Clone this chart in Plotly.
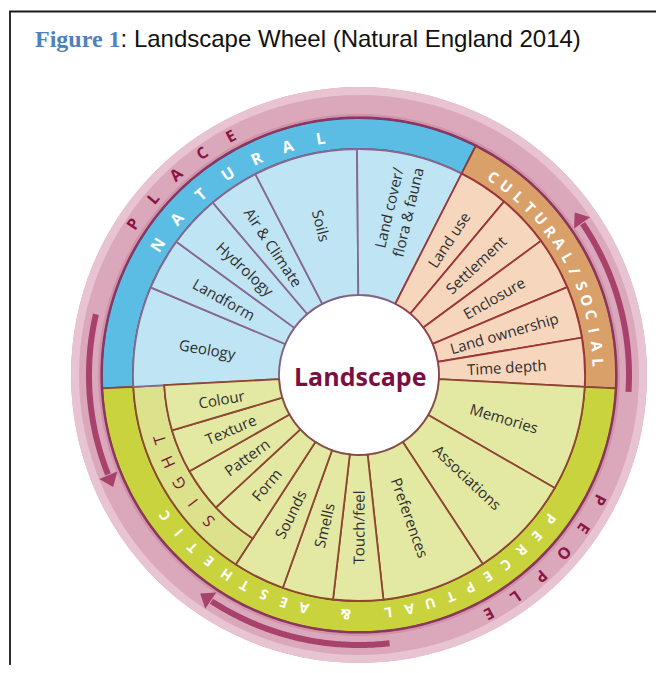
import numpy as np
import plotly.graph_objects as go

# ---------------- data ----------------
natural_labels = ["Geology", "Landform", "Hydrology", "Air & Climate", "Soils",
                  "Land cover/<br>flora & fauna"]
natural_edges = [183.0, 157.2, 143.9, 130.3, 117.3, 90.5, 63.0]

cultural_labels = ["Land use", "Settlement", "Enclosure", "Land ownership", "Time depth"]
cultural_edges = [63.0, 50.1, 36.4, 22.9, 9.5, -3.0]

perceptual_labels = ["Memories", "Associations", "Preferences", "Touch/feel", "Smells", "Sounds"]
perceptual_edges = [-3.0, -30.0, -56.8, -83.8, -96.6, -109.7, -123.0]

sight_labels = ["Form", "Pattern", "Texture", "Colour"]
sight_edges = [-123.0, -137.2, -150.4, -163.5, -177.0]

band_labels = ["NATURAL", "CULTURAL/SOCIAL", "PERCEPTUAL & AESTHETIC"]
band_edges = [(183.0, 63.0), (63.0, -3.0), (-3.0, -177.0)]
sight_band_label = "SIGHT"
sight_band_edges = (-123.0, -177.0)

outer_labels = ["PLACE", "PEOPLE"]
arrow_spans = [(-3.6, 37.0), (167.0, 204.5), (276.5, 234.0)]   # start -> tip (deg)

centre_label = "Landscape"
title_lead = "Figure 1"
title_rest = ": Landscape Wheel (Natural England 2014)"

# ---------------- geometry / style ----------------
# the page body adds an 8px margin, so the figure is placed 8px in from the window corner
SHIFT = 8
W, H = 664 - 2 * SHIFT, 673 - 2 * SHIFT
CX, CY = 359 - SHIFT, 375 - SHIFT
RMAX = 289
R_HOLE, R_SIGHT, R_WEDGE, R_BAND, R_PINK = 80, 195, 226, 257, 288
R_ARROW = 270
FONT = "Open Sans"

label_r = {"Geology": 154, "Landform": 155, "Hydrology": 155, "Air & Climate": 154,
           "Soils": 154, "Land cover/<br>flora & fauna": 170, "Land use": 162,
           "Settlement": 160, "Enclosure": 155, "Land ownership": 151,
           "Time depth": 148, "Memories": 151, "Associations": 149,
           "Preferences": 152, "Touch/feel": 152, "Smells": 154, "Sounds": 155,
           "Form": 143, "Pattern": 139, "Texture": 139, "Colour": 140}

ring_text_style = {
    "NATURAL": dict(start=147.2, step=8.0, r=240, size=16, color="white", bold=True),
    "CULTURAL/SOCIAL": dict(start=55.8, step=3.76, r=240, size=15, color="white", bold=True),
    "PERCEPTUAL & AESTHETIC": dict(start=-37.0, step=5.1, r=240, size=14, color="white", bold=True),
    "SIGHT": dict(start=224.0, step=6.5, r=210, size=16, color="#7a1838", bold=False),
    "PLACE": dict(start=146.3, step=7.0, r=272, size=16, color="#8a1545", bold=True),
    "PEOPLE": dict(start=-27.5, step=6.8, r=272, size=16, color="#8a1545", bold=True),
}

fig = go.Figure()


def bars(edges, base, top, fill, line, lw=1.6):
    th = [(a + b) / 2 for a, b in zip(edges[:-1], edges[1:])]
    wd = [abs(a - b) for a, b in zip(edges[:-1], edges[1:])]
    n = len(th)
    fig.add_trace(go.Barpolar(theta=th, width=wd, base=[base] * n, r=[top - base] * n,
                              marker=dict(color=fill, line=dict(color=line, width=lw)),
                              hoverinfo="skip", showlegend=False))


# pink outer ring (full circle)
bars([0, 360], R_BAND, R_PINK, "#dba7bb", "#dba7bb", 0)
bars([0, 360], 280, R_PINK, "#e8c3d1", "#e8c3d1", 0)
bars([0, 360], R_BAND, 261, "#cf93aa", "#cf93aa", 0)

# coloured group bands
band_fill = ["#5bbde4", "#d9a069", "#c8d33e"]
band_line = ["#5a4a78", "#8e3d33", "#8a4a2c"]
for (a, b), f, l in zip(band_edges, band_fill, band_line):
    bars([a, b], R_WEDGE, R_BAND, f, l, 1.8)
bars(list(sight_band_edges), R_SIGHT, R_WEDGE, "#dce28c", "#8a4a2c", 1.8)

# inner wedges
bars(natural_edges, R_HOLE, R_WEDGE, "#bfe4f3", "#86698f", 1.8)
bars(cultural_edges, R_HOLE, R_WEDGE, "#f6d6bd", "#9c3636", 1.8)
bars(perceptual_edges, R_HOLE, R_WEDGE, "#e3e8a3", "#8d4630", 1.8)
bars(sight_edges, R_HOLE, R_SIGHT, "#e3e8a3", "#8d4630", 1.8)

# dark rim line between bands and pink ring
circ = np.linspace(0, 360, 361)
fig.add_trace(go.Scatterpolar(theta=circ, r=[R_BAND + 0.5] * len(circ), mode="lines",
                              line=dict(color="#8b3560", width=2.2),
                              hoverinfo="skip", showlegend=False))
fig.add_trace(go.Scatterpolar(theta=circ, r=[R_HOLE] * len(circ), mode="lines",
                              line=dict(color="rgba(120,90,110,0.35)", width=2),
                              hoverinfo="skip", showlegend=False))

# arrows in the pink ring
ARROW_C = "#a8426d"
head_size = 17
head_off = np.degrees((head_size / 2) / R_ARROW)
for s, t in arrow_spans:
    d = 1 if t > s else -1
    end = t - d * (head_off * 1.6)
    th = np.linspace(s, end, 80)
    fig.add_trace(go.Scatterpolar(theta=th, r=[R_ARROW] * len(th), mode="lines",
                                  line=dict(color=ARROW_C, width=6),
                                  hoverinfo="skip", showlegend=False))
    hc = t - d * head_off
    ang = -hc if d > 0 else 180 - hc
    fig.add_trace(go.Scatterpolar(theta=[hc], r=[R_ARROW], mode="markers",
                                  marker=dict(symbol="triangle-up", size=head_size,
                                              color=ARROW_C, angle=[ang]),
                                  hoverinfo="skip", showlegend=False))


# ---------------- text ----------------
def to_paper(r, th):
    a = np.radians(th)
    px = CX + r * np.cos(a)
    py = CY - r * np.sin(a)
    return px / W, 1 - py / H


def norm(a):
    return ((a + 180) % 360) - 180


def radial_angle(th):
    t = norm(th)
    if -90 <= t <= 90:
        return -t
    return norm(180 - (t % 360))


annotations = []
for labels, edges in [(natural_labels, natural_edges), (cultural_labels, cultural_edges),
                      (perceptual_labels, perceptual_edges), (sight_labels, sight_edges)]:
    for lab, a, b in zip(labels, edges[:-1], edges[1:]):
        mid = (a + b) / 2
        x, y = to_paper(label_r[lab], mid)
        annotations.append(dict(x=x, y=y, xref="paper", yref="paper", text=lab,
                                showarrow=False, xanchor="center", yanchor="middle",
                                textangle=radial_angle(mid),
                                font=dict(family=FONT, size=15, color="#2f2f2f")))

for word, st in ring_text_style.items():
    for i, ch in enumerate(word):
        if ch == " ":
            continue
        th = st["start"] - i * st["step"]
        x, y = to_paper(st["r"], th)
        txt = f"<b>{ch}</b>" if st["bold"] else ch
        annotations.append(dict(x=x, y=y, xref="paper", yref="paper", text=txt,
                                showarrow=False, xanchor="center", yanchor="middle",
                                textangle=norm(90 - th),
                                font=dict(family=FONT, size=st["size"], color=st["color"])))

# centre
annotations.append(dict(x=(CX + 1) / W, y=1 - (CY + 1) / H, xref="paper", yref="paper",
                        text=f"<b>{centre_label}</b>", showarrow=False,
                        xanchor="center", yanchor="middle",
                        font=dict(family=FONT, size=25, color="#7b0f42")))

# title
annotations.append(dict(x=(33 - SHIFT) / W, y=1 - (38 - SHIFT) / H, xref="paper", yref="paper",
                        text=(f'<span style="font-family:Liberation Serif;color:#4f81bd">'
                              f'<b>{title_lead}</b></span>{title_rest}'),
                        showarrow=False, xanchor="left", yanchor="middle",
                        font=dict(family="Liberation Sans", size=24, color="#111111")))

fig.update_layout(
    width=W, height=H,
    margin=dict(l=0, r=0, t=0, b=0),
    paper_bgcolor="white", plot_bgcolor="white",
    showlegend=False,
    polar=dict(
        domain=dict(x=[(CX - RMAX) / W, (CX + RMAX) / W],
                    y=[1 - (CY + RMAX) / H, 1 - (CY - RMAX) / H]),
        bgcolor="rgba(0,0,0,0)",
        barmode="overlay",
        radialaxis=dict(visible=False, range=[0, RMAX], showgrid=False, showline=False,
                        showticklabels=False, ticks=""),
        angularaxis=dict(visible=False, rotation=0, direction="counterclockwise",
                         showgrid=False, showline=False, showticklabels=False, ticks=""),
    ),
    annotations=annotations,
    shapes=[dict(type="rect", xref="paper", yref="paper", x0=(10 - SHIFT) / W, x1=1.3,
                 y0=-0.3, y1=1 - (11.5 - SHIFT) / H, line=dict(color="#1a1a1a", width=1.8),
                 layer="below")],
)

fig.write_html("out.html")
